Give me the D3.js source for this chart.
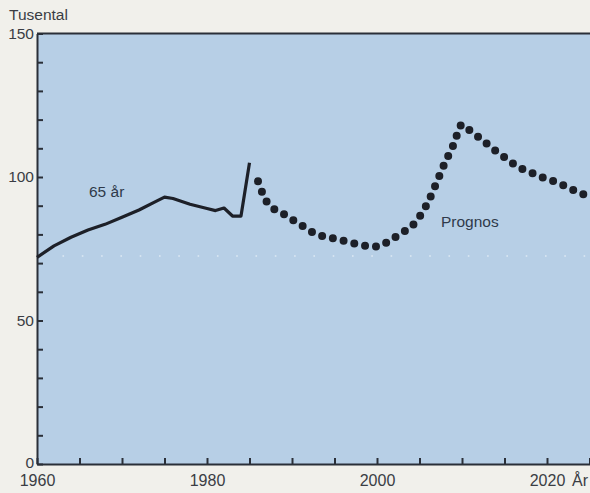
<!DOCTYPE html>
<html>
<head>
<meta charset="utf-8">
<script src="https://cdn.jsdelivr.net/npm/d3@7"></script>
<style>
  body { margin: 0; background: #f1f0eb; }
  svg { display: block; font-family: "Liberation Sans", Arial, sans-serif; }
  .tick text { fill: #3a3d44; }
</style>
</head>
<body>
<div class="chart"></div>
<script>
var svgWidth = 590;
var svgHeight = 493;

// Historical series (solid line)
var histYears = [1960, 1962, 1964, 1966, 1968, 1970, 1972, 1974, 1975, 1976, 1978, 1980, 1981, 1982, 1983, 1984, 1985];
var histValues = [72, 76, 79, 81.5, 83.5, 86, 88.5, 91.5, 93, 92.5, 90.5, 89, 88.3, 89.2, 86.4, 86.4, 105];

// Forecast series (dotted line)
var progYears = [1986, 1987, 1988, 1989, 1990, 1991, 1992, 1993, 1994, 1995, 1996, 1997, 1998, 1999, 2000,
  2001, 2002, 2003, 2004, 2005, 2006, 2007, 2008, 2009, 2010, 2011, 2012, 2013, 2014, 2015,
  2016, 2017, 2018, 2019, 2020, 2021, 2022, 2023, 2024, 2025];
var progValues = [98.5, 91.5, 88.6, 87.1, 85.2, 83.4, 81.4, 79.9, 79.1, 78.5, 77.8, 77.1, 76.4, 75.9, 75.8,
  77.0, 78.8, 80.7, 82.6, 86.2, 91.2, 98.0, 105.0, 111.2, 118.3, 116.0, 113.8, 111.4, 109.0, 106.9,
  104.7, 102.9, 101.7, 100.4, 99.3, 98.3, 97.0, 95.6, 94.3, 93.0];

var xTickYears = d3.range(1960, 2026, 5);
var xLabelYears = [1960, 1980, 2000, 2020];
var yTickValues = d3.range(0, 151, 10);
var yLabelValues = [0, 50, 100, 150];
var refLevel = 72.5;

var svg = d3.select(".chart")
  .append("svg")
  .attr("width", svgWidth)
  .attr("height", svgHeight);

var x = d3.scaleLinear().domain([1960, 2025]).range([37, 589.5]);
var y = d3.scaleLinear().domain([0, 150]).range([464, 33.5]);

// plot background
svg.append("rect")
  .attr("x", x(1960))
  .attr("y", y(150))
  .attr("width", svgWidth - x(1960))
  .attr("height", y(0) - y(150))
  .attr("fill", "#b7cfe6");

// faint white dotted reference line
svg.append("line")
  .attr("x1", x(1963)).attr("x2", svgWidth)
  .attr("y1", y(refLevel)).attr("y2", y(refLevel))
  .attr("stroke", "#ffffff")
  .attr("stroke-opacity", 0.55)
  .attr("stroke-width", 1.6)
  .attr("stroke-dasharray", "1.6 17.7");

// top border
svg.append("line")
  .attr("x1", x(1960)).attr("x2", svgWidth)
  .attr("y1", y(150)).attr("y2", y(150))
  .attr("stroke", "#2a2f38")
  .attr("stroke-width", 2);

// axes
var xAxis = d3.axisBottom(x)
  .tickValues(xTickYears)
  .tickSizeInner(-6)
  .tickSizeOuter(0)
  .tickPadding(10.5)
  .tickFormat(d => xLabelYears.indexOf(d) >= 0 ? d : "");

var gx = svg.append("g")
  .attr("transform", `translate(0, ${y(0)})`)
  .call(xAxis);
gx.selectAll("text").attr("font-size", "16px");

var yAxis = d3.axisLeft(y)
  .tickValues(yTickValues)
  .tickSizeInner(-6)
  .tickSizeOuter(0)
  .tickPadding(3)
  .tickFormat(d => yLabelValues.indexOf(d) >= 0 ? d : "");

var gy = svg.append("g")
  .attr("transform", `translate(${x(1960)}, 0)`)
  .call(yAxis);
gy.selectAll("text").attr("font-size", "15.5px");
gy.selectAll(".tick").filter(d => d === 0).select("text").attr("dy", "0.2em");

svg.selectAll(".domain, .tick line")
  .attr("stroke", "#2a2f38")
  .attr("stroke-width", 2);

svg.append("text")
  .attr("x", 572)
  .attr("y", y(0) + 10.5)
  .attr("dy", "0.71em")
  .attr("font-size", "16px")
  .attr("fill", "#3a3d44")
  .text("År");

svg.append("text")
  .attr("x", 9)
  .attr("y", 19.5)
  .attr("font-size", "15.5px")
  .attr("fill", "#3a3d44")
  .text("Tusental");

// lines
var line = d3.line()
  .x(d => x(d[0]))
  .y(d => y(d[1]));

svg.append("path")
  .datum(histYears.map((yr, i) => [yr, histValues[i]]))
  .attr("d", line)
  .attr("fill", "none")
  .attr("stroke", "#1d2028")
  .attr("stroke-width", 3.2)
  .attr("stroke-linejoin", "round");

svg.append("path")
  .datum(progYears.map((yr, i) => [yr, progValues[i]]))
  .attr("d", line.curve(d3.curveMonotoneX))
  .attr("fill", "none")
  .attr("stroke", "#1d2028")
  .attr("stroke-width", 8)
  .attr("stroke-linecap", "round")
  .attr("stroke-dasharray", "0 11");

// labels
svg.append("text")
  .attr("x", 89)
  .attr("y", 197)
  .attr("font-size", "15.5px")
  .attr("fill", "#2f3a4a")
  .text("65 år");

svg.append("text")
  .attr("x", 441)
  .attr("y", 227)
  .attr("font-size", "15.5px")
  .attr("fill", "#2f3a4a")
  .text("Prognos");
</script>
</body>
</html>
